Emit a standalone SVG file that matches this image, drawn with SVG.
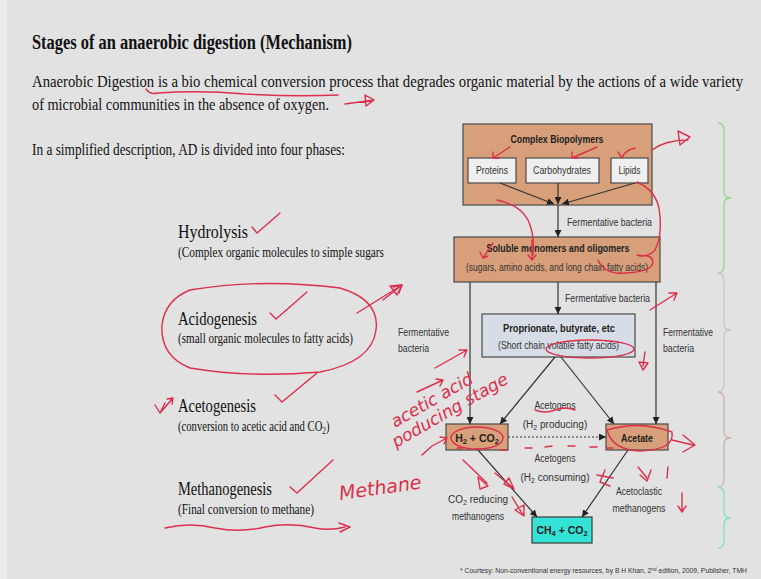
<svg xmlns="http://www.w3.org/2000/svg" width="761" height="579" viewBox="0 0 761 579">
<style>
.ser{font-family:"Liberation Serif","Times New Roman",serif;fill:#111}
.dg{font-family:"Liberation Sans",Arial,sans-serif;font-size:10px;fill:#333}
.db{font-family:"Liberation Sans",Arial,sans-serif;font-size:10.5px;font-weight:bold;fill:#222}
.fn{font-family:"Liberation Sans",Arial,sans-serif;font-size:6.6px;fill:#333}
.tan{fill:#d8a07a;stroke:#4a4a4a;stroke-width:1.2}
.wb{fill:#efefef;stroke:#4a4a4a;stroke-width:1.2}
.blu{fill:#d7dde6;stroke:#4a4a4a;stroke-width:1.2}
.cy{fill:#35e2d6;stroke:#3a3a3a;stroke-width:1.2}
.cn{stroke:#333;stroke-width:1.2;fill:none;marker-end:url(#ah)}
.rd{stroke:#dc2f4a;stroke-width:1.4;fill:none;stroke-linecap:round;stroke-linejoin:round}
.hw{font-family:"DejaVu Sans",sans-serif;font-style:italic;fill:#dc2f4a}
.br{fill:none;stroke-width:1.3}
</style>
<defs>
<marker id="ah" viewBox="0 0 10 10" refX="10" refY="5" markerWidth="7" markerHeight="7" orient="auto" markerUnits="userSpaceOnUse"><path d="M0,0 L10,5 L0,10 z" fill="#222"/></marker>
</defs>
<rect width="761" height="579" fill="#e2e2e2"/>
<rect width="7" height="579" fill="#ececec"/>

<g id="texts">
<text class="ser" x="32" y="49" font-size="20.5" font-weight="bold" textLength="320" lengthAdjust="spacingAndGlyphs">Stages of an anaerobic digestion (Mechanism)</text>
<text class="ser" x="32" y="87" font-size="17.5" textLength="711" lengthAdjust="spacingAndGlyphs">Anaerobic Digestion is a bio chemical conversion process that degrades organic material by the actions of a wide variety</text>
<text class="ser" x="32" y="110" font-size="17.5" textLength="297" lengthAdjust="spacingAndGlyphs">of microbial communities in the absence of oxygen.</text>
<text class="ser" x="32" y="155" font-size="17.5" textLength="313" lengthAdjust="spacingAndGlyphs">In a simplified description, AD is divided into four phases:</text>
<text class="ser" x="178" y="238" font-size="18" textLength="70" lengthAdjust="spacingAndGlyphs">Hydrolysis</text>
<text class="ser" x="178" y="257" font-size="14" textLength="206" lengthAdjust="spacingAndGlyphs">(Complex organic molecules to simple sugars</text>
<text class="ser" x="178" y="325" font-size="18" textLength="79" lengthAdjust="spacingAndGlyphs">Acidogenesis</text>
<text class="ser" x="178" y="343" font-size="14" textLength="175" lengthAdjust="spacingAndGlyphs">(small organic molecules to fatty acids)</text>
<text class="ser" x="178" y="412" font-size="18" textLength="78" lengthAdjust="spacingAndGlyphs">Acetogenesis</text>
<text class="ser" font-size="14" transform="translate(178 431) scale(0.76 1)">(conversion to acetic acid and CO<tspan font-size="9.5" dy="3">2</tspan><tspan dy="-3">)</tspan></text>
<text class="ser" x="178" y="495" font-size="18" textLength="94" lengthAdjust="spacingAndGlyphs">Methanogenesis</text>
<text class="ser" x="178" y="514" font-size="14" textLength="136" lengthAdjust="spacingAndGlyphs">(Final conversion to methane)</text>
<text class="fn" x="460" y="573" textLength="287" lengthAdjust="spacingAndGlyphs">* Courtesy: Non-conventional energy resources, by B H Khan, 2<tspan font-size="4.5" dy="-2.5">nd</tspan><tspan dy="2.5"> edition, 2009, Publisher, TMH</tspan></text>
</g>

<g id="node-complex">
<rect class="tan" x="463" y="124" width="189" height="81"/>
<text class="db" x="557" y="143" text-anchor="middle" textLength="93" lengthAdjust="spacingAndGlyphs">Complex Biopolymers</text>
</g>
<g id="node-proteins">
<rect class="wb" x="468" y="158" width="48" height="25"/>
<text class="dg" x="492" y="174" text-anchor="middle" textLength="32" lengthAdjust="spacingAndGlyphs">Proteins</text>
</g>
<g id="node-carbohydrates">
<rect class="wb" x="526" y="158" width="73" height="25"/>
<text class="dg" x="562" y="174" text-anchor="middle" textLength="58" lengthAdjust="spacingAndGlyphs">Carbohydrates</text>
</g>
<g id="node-lipids">
<rect class="wb" x="611" y="158" width="37" height="25"/>
<text class="dg" x="629.5" y="174" text-anchor="middle" textLength="22" lengthAdjust="spacingAndGlyphs">Lipids</text>
</g>
<g id="node-soluble">
<rect class="tan" x="454" y="237" width="206" height="45"/>
<text class="db" x="558" y="252" text-anchor="middle" textLength="143" lengthAdjust="spacingAndGlyphs">Soluble monomers and oligomers</text>
<text class="dg" x="557" y="271" text-anchor="middle" textLength="182" lengthAdjust="spacingAndGlyphs">(sugars, amino acids, and long chain fatty acids)</text>
</g>
<g id="node-proprionate">
<rect class="blu" x="482" y="314" width="153" height="43"/>
<text class="db" x="559" y="332" text-anchor="middle" textLength="112" lengthAdjust="spacingAndGlyphs">Proprionate, butyrate, etc</text>
<text class="dg" x="558.5" y="349" text-anchor="middle" textLength="121" lengthAdjust="spacingAndGlyphs">(Short chain volatile fatty acids)</text>
</g>
<g id="node-h2co2">
<rect class="tan" x="446" y="424" width="62" height="26"/>
<text class="db" x="477" y="442" text-anchor="middle">H<tspan font-size="7.5" dy="2">2</tspan><tspan dy="-2"> + CO</tspan><tspan font-size="7.5" dy="2">2</tspan></text>
</g>
<g id="node-acetate">
<rect class="tan" x="606" y="424" width="62" height="26"/>
<text class="db" x="637" y="442" text-anchor="middle" textLength="32" lengthAdjust="spacingAndGlyphs">Acetate</text>
</g>
<g id="node-ch4co2">
<rect class="cy" x="532" y="517" width="60" height="26"/>
<text class="db" x="562" y="534" text-anchor="middle">CH<tspan font-size="7.5" dy="2">4</tspan><tspan dy="-2"> + CO</tspan><tspan font-size="7.5" dy="2">2</tspan></text>
</g>

<g id="connectors">
<line class="cn" x1="500" y1="183" x2="554" y2="204"/>
<line class="cn" x1="558" y1="183" x2="558" y2="204"/>
<line class="cn" x1="635" y1="183" x2="562" y2="204"/>
<line class="cn" x1="558" y1="205" x2="558" y2="237"/>
<line class="cn" x1="558" y1="282" x2="558" y2="314"/>
<line class="cn" x1="470" y1="282" x2="470" y2="424"/>
<line class="cn" x1="656" y1="282" x2="656" y2="424"/>
<line class="cn" x1="555" y1="357" x2="500" y2="424"/>
<line class="cn" x1="561" y1="357" x2="614" y2="424"/>
<line class="cn" x1="508" y1="437" x2="606" y2="437" stroke-dasharray="2 2"/>
<line class="cn" x1="478" y1="450" x2="537" y2="517"/>
<line class="cn" x1="628" y1="450" x2="582" y2="517"/>
</g>

<g id="connector-labels">
<text class="dg" x="567" y="226" textLength="85" lengthAdjust="spacingAndGlyphs">Fermentative bacteria</text>
<text class="dg" x="565" y="302" textLength="85" lengthAdjust="spacingAndGlyphs">Fermentative bacteria</text>
<text class="dg" x="398" y="336" textLength="51" lengthAdjust="spacingAndGlyphs">Fermentative</text>
<text class="dg" x="398" y="352" textLength="31" lengthAdjust="spacingAndGlyphs">bacteria</text>
<text class="dg" x="663" y="336" textLength="50" lengthAdjust="spacingAndGlyphs">Fermentative</text>
<text class="dg" x="663" y="352" textLength="31" lengthAdjust="spacingAndGlyphs">bacteria</text>
<text class="dg" x="555" y="409" text-anchor="middle" textLength="41" lengthAdjust="spacingAndGlyphs">Acetogens</text>
<text class="dg" x="555" y="428" text-anchor="middle">(H<tspan font-size="7" dy="2">2</tspan><tspan dy="-2"> producing)</tspan></text>
<text class="dg" x="555" y="462" text-anchor="middle" textLength="41" lengthAdjust="spacingAndGlyphs">Acetogens</text>
<text class="dg" x="555" y="481" text-anchor="middle">(H<tspan font-size="7" dy="2">2</tspan><tspan dy="-2"> consuming)</tspan></text>
<text class="dg" x="478" y="503" text-anchor="middle">CO<tspan font-size="7" dy="2">2</tspan><tspan dy="-2"> reducing</tspan></text>
<text class="dg" x="478" y="520" text-anchor="middle" textLength="52" lengthAdjust="spacingAndGlyphs">methanogens</text>
<text class="dg" x="639" y="495" text-anchor="middle" textLength="46" lengthAdjust="spacingAndGlyphs">Acetoclastic</text>
<text class="dg" x="639" y="512" text-anchor="middle" textLength="53" lengthAdjust="spacingAndGlyphs">methanogens</text>
</g>

<g id="braces">
<path class="br" stroke="#8fd88f" d="M718,123 Q724,123 724,131 L724,192 Q724,198 731,198 Q724,198 724,204 L724,265 Q724,273 718,273"/>
<path class="br" stroke="#c6c6ce" d="M718,273 Q724,273 724,281 L724,324 Q724,330 731,330 Q724,330 724,336 L724,384 Q724,392 718,392"/>
<path class="br" stroke="#cdb2a4" d="M718,392 Q724,392 724,400 L724,432 Q724,438 731,438 Q724,438 724,444 L724,479 Q724,487 718,487"/>
<path class="br" stroke="#7fe0d0" d="M718,487 Q724,487 724,495 L724,512 Q724,518 731,518 Q724,518 724,524 L724,540 Q724,548 718,548"/>
</g>

<g id="annotations">
<path class="rd" d="M146,89 Q150,95 158,93 Q200,90 245,94 Q295,97 338,95"/>
<path class="rd" d="M345,104 L374,100 M365,95 L374,100 L366,106 Z"/>
<path class="rd" d="M252,227 L257,233 L280,213"/>
<path class="rd" d="M190,290 Q262,278 340,288 Q380,300 376,330 Q372,362 320,372 Q250,378 190,368 Q160,356 162,325 Q165,300 190,290"/>
<path class="rd" d="M270,313 L276,319 L307,292"/>
<path class="rd" d="M357,313 L402,285 M390,286 L402,285 L397,295 Z"/>
<path class="rd" d="M275,395 L282,402 L317,373"/>
<path class="rd" d="M155,405 L160,413 L165,403 M160,413 L173,398 M167,399 L173,398 L172,404"/>
<path class="rd" d="M290,487 L297,493 L333,460"/>
<text class="hw" x="340" y="500" font-size="19" transform="rotate(-8 340 500)">Methane</text>
<path class="rd" d="M165,528 Q190,522 215,528 Q240,533 265,527 Q290,522 315,528 Q330,531 345,527 M339,523 L350,527 L340,532"/>
<path class="rd" d="M497,200 Q520,205 528,220 Q535,235 533,255"/>
<path class="rd" d="M510,147 L493,158 M493,152 L493,158 L499,158"/>
<path class="rd" d="M597,147 L572,158 M572,152 L572,158 L578,158"/>
<path class="rd" d="M635,148 Q625,150 622,158 M618,152 L622,158"/>
<path class="rd" d="M637,182 Q655,190 659,208 Q663,235 655,250 Q648,258 637,255"/>
<path class="rd" d="M652,150 Q665,140 688,140 M678,131 L690,137 L680,145 Z"/>
<path class="rd" d="M493,243 L483,258 M480,252 L483,258 L488,256"/>
<path class="rd" d="M532,240 L532,260 M528,255 L532,260 L536,255"/>
<path class="rd" d="M598,260 Q605,275 625,273 Q652,272 653,262 Q652,254 640,256"/>
<ellipse class="rd" cx="590" cy="349" rx="44" ry="9"/>
<path class="rd" d="M383,300 L402,285 M393,287 L402,285 L399,293"/>
<path class="rd" d="M650,310 L677,293 M669,293 L677,293 L674,300"/>
<path class="rd" d="M435,368 L467,350 M459,350 L467,350 L464,357"/>
<path class="rd" d="M645,352 L643,366 M639,362 L643,370 L648,363 Z"/>
<path class="rd" d="M417,392 L443,380 M436,379 L443,380 L440,386"/>
<text class="hw" x="395" y="428" font-size="17" transform="rotate(-30 395 428)">acetic acid</text>
<text class="hw" x="396" y="448" font-size="17" transform="rotate(-30 396 448)">poducing stage</text>
<ellipse class="rd" cx="477" cy="438" rx="26" ry="11"/>
<path class="rd" d="M607,430 Q640,420 672,432 Q675,450 640,451 Q612,450 607,430"/>
<path class="rd" d="M672,440 L693,445 M683,435 L695,445 L683,452"/>
<path class="rd" d="M422,455 L432,446 L447,438 M440,437 L447,438 L444,444"/>
<path class="rd" d="M457,448 L463,448 M475,449 L481,449 M500,450 L507,450 M525,448 L532,448 M545,447 L552,446 M568,446 L575,446 M590,447 L597,447 M607,448 L613,448" stroke-width="1.6"/>
<path class="rd" d="M535,410 Q545,414 555,410 Q565,406 575,410"/>
<path class="rd" d="M463,460 L487,483 M478,477 L488,486 L480,489 Z"/>
<path class="rd" d="M495,473 L512,487 M504,484 L514,489 L509,478 Z"/>
<path class="rd" d="M512,497 L523,515 M515,510 L524,516 L524,505 Z"/>
<path class="rd" d="M597,475 L613,478 M605,470 L600,482 L610,486"/>
<path class="rd" d="M638,467 L647,478 M640,475 L647,481 L651,470"/>
<path class="rd" d="M668,467 L667,478"/>
<path class="rd" d="M682,493 L682,512 M678,506 L682,512 L686,506"/>
</g>
</svg>
